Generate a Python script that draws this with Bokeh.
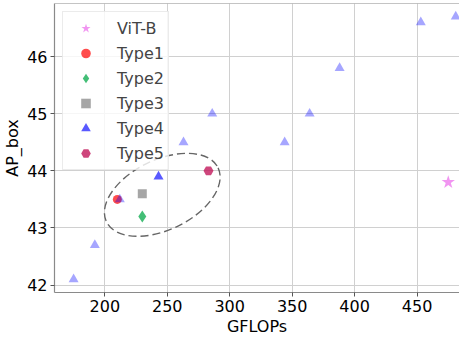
from bokeh.plotting import figure
from bokeh.models import Range1d, Legend, LegendItem, Span, FixedTicker
from bokeh.embed import file_html
from bokeh.resources import INLINE
import math

# --- data ---
base_x = [175, 192, 212, 263, 286, 344, 364, 388, 453, 481]
base_y = [42.1, 42.7, 43.5, 44.5, 45.0, 44.5, 45.0, 45.8, 46.6, 46.7]

vit_x, vit_y = [475], [43.8]
t1_x, t1_y = [210], [43.5]
t2_x, t2_y = [230], [43.2]
t3_x, t3_y = [230], [43.6]
t4_x, t4_y = [243], [43.9]
t5_x, t5_y = [283], [44.0]

ell_x, ell_y = [246], [43.58]

x_ticks = [200, 250, 300, 350, 400, 450]
y_ticks = [42, 43, 44, 45, 46]

FONT = "DejaVu Sans"

p = figure(width=459, height=338, output_backend="svg", toolbar_location=None,
           x_range=Range1d(159.7, 484), y_range=Range1d(41.87, 46.93),
           min_border_left=0, min_border_right=0, min_border_top=3, min_border_bottom=0)

p.outline_line_color = None
p.background_fill_color = "white"

for ax in (p.xaxis[0], p.yaxis[0]):
    ax.axis_line_color = "#8a8a8a"
    ax.axis_line_width = 1.2
    ax.major_tick_line_color = "#555555"
    ax.major_tick_out = 4
    ax.major_tick_in = 0
    ax.minor_tick_line_color = None
    ax.major_label_text_font = FONT
    ax.major_label_text_font_size = "16px"
    ax.major_label_text_color = "black"
    ax.axis_label_text_font = FONT
    ax.axis_label_text_font_size = "16px"
    ax.axis_label_text_font_style = "normal"
    ax.axis_label_text_color = "black"
    ax.major_label_standoff = 3
    ax.axis_label_standoff = 2

p.xaxis.axis_label = "GFLOPs"
p.yaxis.axis_label = "AP_box"
p.xaxis.ticker = FixedTicker(ticks=x_ticks)
p.yaxis.ticker = FixedTicker(ticks=y_ticks)

p.grid.grid_line_color = "#d0d0d0"
p.grid.grid_line_width = 1

# top spine
p.add_layout(Span(location=p.y_range.end, dimension="width", line_color="#8a8a8a", line_width=1.2))

# dashed ellipse (screen-sized)
p.ellipse(x=ell_x, y=ell_y, width=124, height=70, angle=math.radians(25.8),
          width_units="screen", height_units="screen",
          fill_color=None, line_color="#666666", line_width=1.4, line_dash="8 4")

r_vit = p.scatter(vit_x, vit_y, marker="star", size=14, fill_color="violet", fill_alpha=0.85, line_color=None)
r1 = p.scatter(t1_x, t1_y, marker="circle", size=9, fill_color="red", fill_alpha=0.7, line_color=None)
r2 = p.scatter(t2_x, t2_y, marker="diamond", size=12, fill_color="#22b35e", fill_alpha=0.85, line_color=None)
r3 = p.scatter(t3_x, t3_y, marker="square", size=9, fill_color="gray", fill_alpha=0.7, line_color=None)
r4 = p.scatter(t4_x, t4_y, marker="triangle", size=10, fill_color="blue", fill_alpha=0.65, line_color=None)
r5 = p.scatter(t5_x, t5_y, marker="hex", size=10, fill_color="#c2185b", fill_alpha=0.8, line_color=None)
p.scatter(base_x, base_y, marker="triangle", size=10, fill_color="blue", fill_alpha=0.35, line_color=None)

legend = Legend(items=[
    LegendItem(label="ViT-B", renderers=[r_vit]),
    LegendItem(label="Type1", renderers=[r1]),
    LegendItem(label="Type2", renderers=[r2]),
    LegendItem(label="Type3", renderers=[r3]),
    LegendItem(label="Type4", renderers=[r4]),
    LegendItem(label="Type5", renderers=[r5]),
], location="top_left")
legend.margin = 8
legend.padding = 4
legend.spacing = 1
legend.glyph_width = 37
legend.glyph_height = 24
legend.label_height = 24
legend.label_standoff = 13
legend.label_text_font = FONT
legend.label_text_font_size = "16px"
legend.border_line_color = "#d8d8d8"
legend.background_fill_alpha = 0.8
p.add_layout(legend, "center")

open("out.html", "w").write(file_html(p, INLINE))
